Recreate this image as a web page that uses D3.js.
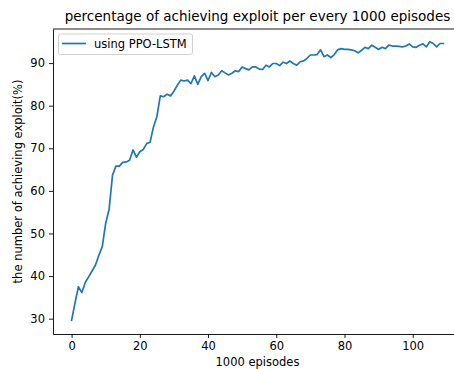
<!DOCTYPE html>
<html>
<head>
<meta charset="utf-8">
<script src="https://cdn.jsdelivr.net/npm/d3@7"></script>
<style>
  body { margin: 0; background: #fff; }
  text { font-family: "DejaVu Sans", sans-serif; fill: #000; }
</style>
</head>
<body>
<svg id="chart" width="454" height="369"></svg>
<script>
// values, one per 1000 episodes
var episodes = d3.range(0, 110);
var exploitPct = [
  29.6, 33.7, 37.5, 36.1, 38.5, 39.8, 41.2, 42.6, 44.9, 46.9,
  52.4, 55.7, 63.7, 65.8, 65.8, 66.7, 66.8, 67.2, 69.6, 67.9,
  69.2, 69.7, 71.1, 71.4, 75.0, 77.4, 82.3, 82.1, 82.7, 82.3,
  83.4, 84.8, 86.0, 85.8, 86.0, 85.2, 87.0, 85.0, 86.8, 87.6,
  85.9, 87.8, 86.8, 87.2, 88.2, 87.7, 87.2, 87.6, 88.2, 88.0,
  89.1, 88.7, 88.4, 89.1, 89.1, 88.6, 88.5, 89.5, 89.1, 89.9,
  89.9, 89.4, 90.2, 89.9, 90.5, 89.9, 89.5, 90.3, 90.5, 91.1,
  91.9, 91.9, 92.0, 93.1, 91.5, 91.9, 91.3, 92.0, 93.1, 93.4,
  93.2, 93.2, 93.1, 92.9, 92.4, 93.0, 93.7, 93.4, 94.2, 93.7,
  93.2, 93.7, 93.4, 94.2, 94.0, 94.0, 93.9, 93.8, 94.0, 94.5,
  93.8, 93.7, 94.2, 94.5, 93.8, 95.0, 94.6, 93.8, 94.6, 94.6
];
var xTicks = [0, 20, 40, 60, 80, 100];
var yTicks = [30, 40, 50, 60, 70, 80, 90];
var seriesName = "using PPO-LSTM";

var pLeft = 53, pTop = 29, pBottom = 334, pRight = 462;

var svg = d3.select("#chart");

var x = d3.scaleLinear().domain([-5.45, 114.45]).range([pLeft, pRight]);
var y = d3.scaleLinear().domain([26.4, 98.0]).range([pBottom, pTop]);

// data line
var line = d3.line()
  .x(function(d, i) { return x(episodes[i]); })
  .y(function(d) { return y(d); });

svg.append("path")
  .datum(exploitPct)
  .attr("d", line)
  .attr("fill", "none")
  .attr("stroke", "#1f77b4")
  .attr("stroke-width", 1.7)
  .attr("stroke-linejoin", "round")
  .attr("stroke-linecap", "square");

// axes
var xAxis = svg.append("g")
  .attr("transform", "translate(0," + pBottom + ")")
  .call(d3.axisBottom(x).tickValues(xTicks).tickSize(4).tickPadding(4).tickSizeOuter(0));

var yAxis = svg.append("g")
  .attr("transform", "translate(" + pLeft + ",0)")
  .call(d3.axisLeft(y).tickValues(yTicks).tickSize(4).tickPadding(4).tickSizeOuter(0));

[xAxis, yAxis].forEach(function(g) {
  g.selectAll("text")
    .style("font-family", "DejaVu Sans, sans-serif")
    .style("font-size", "11.5px")
    .attr("fill", "#222");
  g.selectAll("line").attr("stroke", "#000").attr("stroke-width", 0.9);
  g.select(".domain").attr("stroke", "#000").attr("stroke-width", 0.9);
});

// top spine
svg.append("line")
  .attr("x1", pLeft).attr("x2", pRight)
  .attr("y1", pTop).attr("y2", pTop)
  .attr("stroke", "#000")
  .attr("stroke-width", 0.9);

// title and labels
svg.append("text")
  .text("percentage of achieving exploit per every 1000 episodes")
  .attr("x", 257.5)
  .attr("y", pTop - 8)
  .attr("text-anchor", "middle")
  .style("font-size", "13.5px");

svg.append("text")
  .text("1000 episodes")
  .attr("x", (pLeft + pRight) / 2)
  .attr("y", 366)
  .attr("text-anchor", "middle")
  .style("font-size", "11.5px");

svg.append("text")
  .text("the number of achieving exploit(%)")
  .attr("transform", "translate(22," + (pTop + pBottom) / 2 + ") rotate(-90)")
  .attr("text-anchor", "middle")
  .style("font-size", "11.5px");

// legend
var legend = svg.append("g");

legend.append("rect")
  .attr("x", 58.5)
  .attr("y", 34)
  .attr("width", 134)
  .attr("height", 20.5)
  .attr("rx", 2)
  .attr("fill", "#fff")
  .attr("fill-opacity", 0.8)
  .attr("stroke", "#cccccc")
  .attr("stroke-width", 0.9);

legend.append("line")
  .attr("x1", 62).attr("x2", 86)
  .attr("y1", 43.5).attr("y2", 43.5)
  .attr("stroke", "#1f77b4")
  .attr("stroke-width", 1.7);

legend.append("text")
  .text(seriesName)
  .attr("x", 94)
  .attr("y", 48)
  .style("font-size", "11.5px");
</script>
</body>
</html>
